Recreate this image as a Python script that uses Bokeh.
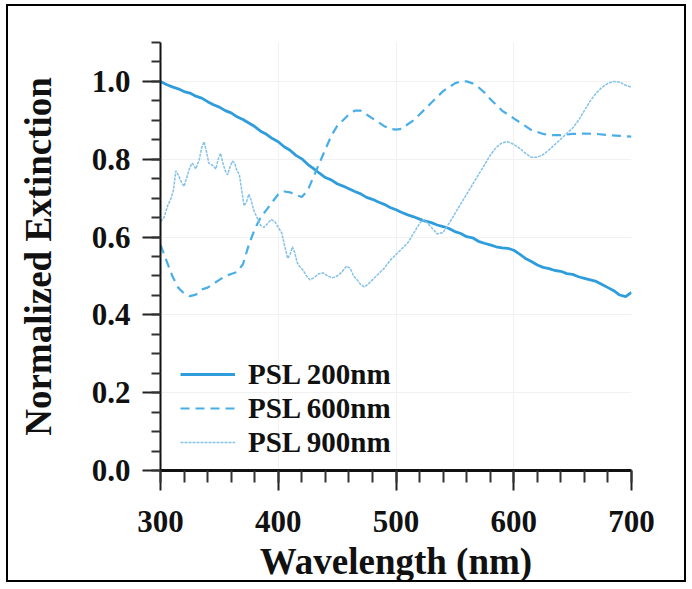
from bokeh.plotting import figure
from bokeh.models import Range1d, FixedTicker, PrintfTickFormatter
from bokeh.embed import file_html
from bokeh.resources import INLINE

# ---------------- data ----------------
wl_200 = list(range(300, 701, 5))
ext_200 = [1.000, 0.992, 0.986, 0.981, 0.974, 0.970, 0.962, 0.957, 0.948, 0.940,
           0.934, 0.925, 0.919, 0.909, 0.902, 0.893, 0.884, 0.872, 0.864, 0.853,
           0.845, 0.832, 0.823, 0.810, 0.801, 0.787, 0.776, 0.764, 0.753, 0.747,
           0.737, 0.731, 0.724, 0.717, 0.711, 0.702, 0.697, 0.690, 0.684, 0.676,
           0.670, 0.663, 0.657, 0.652, 0.646, 0.641, 0.637, 0.631, 0.627, 0.622,
           0.614, 0.609, 0.601, 0.598, 0.589, 0.584, 0.580, 0.575, 0.572, 0.571,
           0.566, 0.556, 0.545, 0.537, 0.528, 0.522, 0.519, 0.514, 0.512, 0.506,
           0.504, 0.498, 0.494, 0.490, 0.486, 0.478, 0.470, 0.462, 0.451, 0.447,
           0.458]

wl_600 = [300, 305, 310, 315, 320, 325, 330, 335, 340, 345, 350, 355, 360, 365, 370,
          375, 380, 385, 390, 395, 400, 405, 410, 415, 420, 425, 430, 435, 440, 445,
          450, 455, 460, 465, 470, 475, 480, 485, 490, 495, 500, 505, 510, 515, 520,
          525, 530, 535, 540, 545, 550, 555, 560, 565, 570, 575, 580, 585, 590, 595,
          600, 605, 610, 615, 620, 625, 630, 640, 650, 660, 670, 680, 690, 700]
ext_600 = [0.580, 0.540, 0.500, 0.470, 0.455, 0.448, 0.452, 0.465, 0.470, 0.480,
           0.490, 0.500, 0.505, 0.510, 0.530, 0.580, 0.620, 0.650, 0.670, 0.690,
           0.710, 0.717, 0.715, 0.708, 0.703, 0.720, 0.755, 0.790, 0.825, 0.860,
           0.885, 0.900, 0.915, 0.925, 0.925, 0.915, 0.905, 0.895, 0.885, 0.878,
           0.876, 0.878, 0.890, 0.900, 0.915, 0.930, 0.945, 0.960, 0.975, 0.985,
           0.995, 1.000, 1.000, 0.995, 0.985, 0.972, 0.955, 0.940, 0.925, 0.915,
           0.905, 0.895, 0.885, 0.875, 0.870, 0.865, 0.862, 0.862, 0.865, 0.866,
           0.865, 0.862, 0.860, 0.858]

wl_900 = [300, 303, 306, 309, 311, 313, 315, 318, 320, 322, 325, 327, 330, 333, 335,
          337, 339, 341, 344, 347, 349, 351, 353, 355, 357, 359, 361, 363, 365, 367,
          369, 371, 373, 375, 377, 379, 382, 385, 388, 391, 394, 397, 400, 403, 406,
          408, 410, 412, 414, 416, 418, 421, 424, 427, 430, 434, 438, 442, 446, 450,
          454, 458, 461, 464, 467, 470, 473, 476, 480, 485, 490, 495, 500, 505, 510,
          515, 520, 523, 526, 530, 535, 540, 545, 550, 555, 560, 565, 570, 575, 580,
          585, 590, 595, 600, 605, 610, 615, 620, 625, 630, 635, 640, 645, 650, 655,
          660, 665, 670, 675, 680, 685, 690, 695, 700]
ext_900 = [0.640, 0.650, 0.680, 0.700, 0.720, 0.770, 0.760, 0.740, 0.730, 0.750,
           0.780, 0.790, 0.775, 0.800, 0.830, 0.845, 0.820, 0.790, 0.785, 0.775,
           0.800, 0.815, 0.790, 0.770, 0.760, 0.780, 0.795, 0.790, 0.770, 0.760,
           0.720, 0.680, 0.690, 0.710, 0.695, 0.670, 0.650, 0.630, 0.625, 0.635,
           0.645, 0.640, 0.625, 0.610, 0.570, 0.545, 0.555, 0.575, 0.560, 0.535,
           0.525, 0.515, 0.500, 0.490, 0.495, 0.505, 0.508, 0.500, 0.495, 0.500,
           0.510, 0.525, 0.520, 0.500, 0.490, 0.478, 0.472, 0.478, 0.490, 0.505,
           0.520, 0.540, 0.555, 0.570, 0.585, 0.610, 0.635, 0.645, 0.638, 0.625,
           0.608, 0.612, 0.635, 0.660, 0.685, 0.710, 0.735, 0.760, 0.785, 0.810,
           0.830, 0.842, 0.845, 0.838, 0.828, 0.815, 0.805, 0.805, 0.812, 0.824,
           0.838, 0.852, 0.866, 0.880, 0.900, 0.925, 0.950, 0.970, 0.985, 0.995,
           1.000, 0.998, 0.990, 0.985]

series_labels = ["PSL 200nm", "PSL 600nm", "PSL 900nm"]
x_ticks = [300, 400, 500, 600, 700]
y_ticks = [0.0, 0.2, 0.4, 0.6, 0.8, 1.0]

# ---------------- figure ----------------
FONT = "Liberation Serif"

p = figure(width=680, height=578, output_backend="svg", toolbar_location=None,
           x_range=Range1d(300, 700), y_range=Range1d(0, 1.1),
           min_border_left=152, min_border_right=57,
           min_border_top=36, min_border_bottom=112,
           background_fill_color="white", border_fill_color="white",
           outline_line_color=None,
           styles={"border": "2px solid black", "margin": "4px 0px 0px 6px"})

p.line(wl_200, ext_200, line_color="#2f9ddc", line_width=2.8,
       legend_label=series_labels[0])
p.line(wl_600, ext_600, line_color="#4aaee6", line_width=2.2, line_dash="9 6",
       legend_label=series_labels[1])
p.line(wl_900, ext_900, line_color="#84c2ea", line_width=1.5, line_dash="3 1",
       legend_label=series_labels[2])

# axes
p.xaxis.ticker = FixedTicker(ticks=x_ticks, minor_ticks=list(range(300, 701, 20)))
p.yaxis.ticker = FixedTicker(ticks=y_ticks,
                             minor_ticks=[round(i * 0.05, 2) for i in range(0, 23)])
p.xaxis.formatter = PrintfTickFormatter(format="%d")
p.yaxis.formatter = PrintfTickFormatter(format="%.1f")

for ax in (p.xaxis, p.yaxis):
    ax.major_label_text_font = FONT
    ax.major_label_text_font_style = "bold"
    ax.major_label_text_font_size = "31px"
    ax.major_label_text_color = "#111111"
    ax.axis_label_text_font = FONT
    ax.axis_label_text_font_style = "bold"
    ax.axis_label_text_font_size = "37px"
    ax.axis_label_text_color = "#111111"
    ax.axis_line_color = "#111111"
    ax.major_tick_line_color = "#222222"
    ax.minor_tick_line_color = "#333333"
    ax.major_tick_line_width = 2
    ax.minor_tick_line_width = 2
    ax.major_tick_in = 0
    ax.minor_tick_in = 0

p.xaxis.axis_label = "Wavelength (nm)"
p.yaxis.axis_label = "Normalized Extinction"
p.xaxis.axis_line_width = 3
p.yaxis.axis_line_width = 2
p.xaxis.major_tick_out = 20
p.xaxis.minor_tick_out = 12
p.yaxis.major_tick_out = 18
p.yaxis.minor_tick_out = 9
p.xaxis.major_label_standoff = 20
p.yaxis.major_label_standoff = 12
p.xaxis.axis_label_standoff = 6
p.yaxis.axis_label_standoff = 30

# faint grid
p.xgrid.grid_line_color = "#f1f1f1"
p.ygrid.grid_line_color = "#f1f1f1"

# legend
lg = p.legend[0]
lg.location = (20, 11)
lg.padding = 0
lg.margin = 0
lg.spacing = 0
lg.glyph_width = 55
lg.glyph_height = 34
lg.label_height = 34
lg.label_standoff = 13
lg.label_text_font = FONT
lg.label_text_font_style = "bold"
lg.label_text_font_size = "29px"
lg.label_text_color = "#111111"
lg.border_line_color = None
lg.background_fill_alpha = 0

open("out.html", "w").write(file_html(p, INLINE))
